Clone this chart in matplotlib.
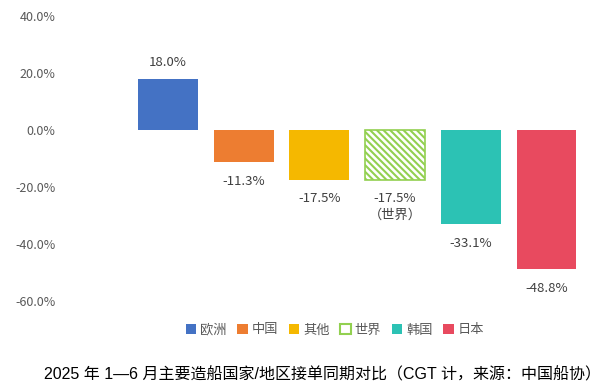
import matplotlib
matplotlib.use("Agg")
import matplotlib.pyplot as plt
from matplotlib.patches import Patch

plt.rcParams['font.family'] = ['Noto Sans CJK SC', 'DejaVu Sans']
plt.rcParams['hatch.linewidth'] = 1.5

# 数据
regions = ["欧洲", "中国", "其他", "世界", "韩国", "日本"]
changes = [18.0, -11.3, -17.5, -17.5, -33.1, -48.8]
colors = ["#4472C4", "#ED7D31", "#F5B800", "#92D050", "#2CC2B4", "#E84A5F"]
y_ticks = [40, 20, 0, -20, -40, -60]
title = "2025 年 1—6 月主要造船国家/地区接单同期对比（CGT 计，来源：中国船协）"

W, H = 607, 391
fig = plt.figure(figsize=(W / 100, H / 100), dpi=100)
ax = fig.add_axes([64 / W, 90 / H, (590 - 64) / W, (301 - 16) / H])

for i, (name, val, c) in enumerate(zip(regions, changes, colors)):
    if name == "世界":
        ax.bar(i, val, width=0.79, facecolor="white", edgecolor=c, hatch="\\\\\\\\\\", linewidth=1.2)
    else:
        ax.bar(i, val, width=0.79, color=c)
    label = f"{val:.1f}%"
    if name == "世界":
        label += "\n（世界）"
    if val >= 0:
        ax.annotate(label, (i, val), xytext=(0, 7), textcoords="offset points",
                    ha="center", va="bottom", fontsize=9.5, color="#404040")
    else:
        ax.annotate(label, (i, val), xytext=(0, -9), textcoords="offset points",
                    ha="center", va="top", fontsize=9.5, color="#404040", linespacing=1.3)

ax.set_xlim((64 - 168) / 75.7, (590 - 168) / 75.7)
ax.set_ylim(-60, 40)
ax.set_yticks(y_ticks)
ax.set_yticklabels([f"{t:.1f}%" for t in y_ticks], fontsize=9, color="#595959")
ax.set_xticks([])
ax.tick_params(axis="y", length=0, pad=6)
for s in ax.spines.values():
    s.set_visible(False)

handles = []
for name, c in zip(regions, colors):
    if name == "世界":
        handles.append(Patch(facecolor="white", edgecolor=c, linewidth=1.5, label=name))
    else:
        handles.append(Patch(facecolor=c, label=name))
leg = fig.legend(handles=handles, loc="center", bbox_to_anchor=(335 / W, 1 - 330 / H), ncol=6,
                 frameon=False, fontsize=9.5, handlelength=0.8, handleheight=0.8,
                 handletextpad=0.3, columnspacing=0.8)
for t in leg.get_texts():
    t.set_color("#595959")

fig.text(322 / W, 1 - 375 / H, title, ha="center", va="center", fontsize=11.5,
         color="black", family=['Liberation Sans', 'Noto Sans CJK SC'])

fig.savefig("out.png", dpi=100)
